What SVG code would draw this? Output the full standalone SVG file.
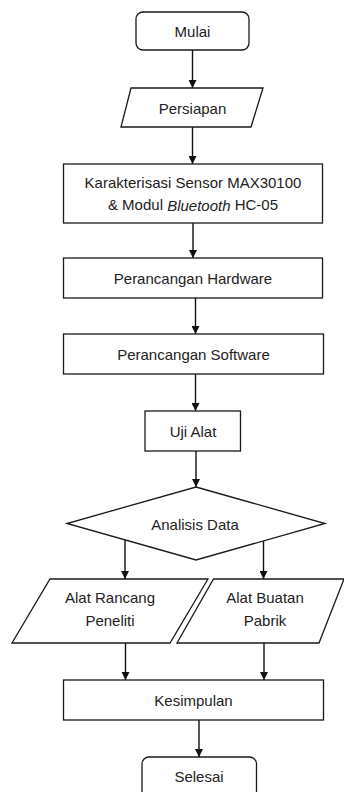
<svg xmlns="http://www.w3.org/2000/svg" width="344" height="792" viewBox="0 0 344 792">
<defs>
<marker id="ah" viewBox="0 0 10 10" refX="10" refY="5" markerWidth="8" markerHeight="8" markerUnits="userSpaceOnUse" orient="auto">
<path d="M0,0 L10,5 L0,10 z" fill="#111"/>
</marker>
</defs>
<style>
.s{fill:#fff;stroke:#1a1a1a;stroke-width:1.3}
.t{font-family:"Liberation Sans",Arial,sans-serif;font-size:15px;fill:#222;text-anchor:middle;dominant-baseline:central}
.c{fill:none;stroke:#111;stroke-width:1.4;marker-end:url(#ah)}
</style>
<rect width="344" height="792" fill="#fff"/>
<g id="connectors">
<line class="c" x1="192.5" y1="50" x2="192.5" y2="88"/>
<line class="c" x1="192.5" y1="127" x2="192.5" y2="164"/>
<line class="c" x1="193" y1="223" x2="193" y2="258"/>
<line class="c" x1="195.5" y1="298" x2="195.5" y2="334"/>
<line class="c" x1="195.5" y1="374" x2="195.5" y2="411"/>
<line class="c" x1="196" y1="451" x2="196" y2="487"/>
<line class="c" x1="125" y1="540" x2="125" y2="579"/>
<line class="c" x1="263.5" y1="541" x2="263.5" y2="579"/>
<line class="c" x1="125.5" y1="643" x2="125.5" y2="680"/>
<line class="c" x1="264" y1="643" x2="264" y2="680"/>
<line class="c" x1="199" y1="720" x2="199" y2="757"/>
</g>
<g id="mulai">
<rect class="s" x="136" y="12" width="113" height="38" rx="7"/>
<text class="t" x="192.5" y="31">Mulai</text>
</g>
<g id="persiapan">
<polygon class="s" points="131,88 263,88 251,127 121,127"/>
<text class="t" x="192.5" y="108">Persiapan</text>
</g>
<g id="karakterisasi">
<rect class="s" x="63.5" y="164" width="259" height="59"/>
<text class="t" x="193" y="182.5">Karakterisasi Sensor MAX30100</text>
<text class="t" x="193" y="204.5">&amp; Modul <tspan font-style="italic">Bluetooth</tspan> HC-05</text>
</g>
<g id="hardware">
<rect class="s" x="63.5" y="258" width="259" height="40"/>
<text class="t" x="193" y="278">Perancangan Hardware</text>
</g>
<g id="software">
<rect class="s" x="63.5" y="334" width="260" height="40"/>
<text class="t" x="193.5" y="354">Perancangan Software</text>
</g>
<g id="uji-alat">
<rect class="s" x="145" y="411" width="95.5" height="40"/>
<text class="t" x="193" y="431">Uji Alat</text>
</g>
<g id="analisis-data">
<polygon class="s" points="196,487 325,523.5 196,560 67,523.5"/>
<text class="t" x="195" y="524">Analisis Data</text>
</g>
<g id="alat-rancang">
<polygon class="s" points="50,579 208,579 170,643 12,643"/>
<text class="t" x="110" y="597">Alat Rancang</text>
<text class="t" x="110" y="620">Peneliti</text>
</g>
<g id="alat-buatan">
<polygon class="s" points="213.5,579 344,579 319,643 177,643"/>
<text class="t" x="265" y="597">Alat Buatan</text>
<text class="t" x="265" y="620">Pabrik</text>
</g>
<g id="kesimpulan">
<rect class="s" x="63.5" y="680" width="260" height="40"/>
<text class="t" x="193.5" y="700">Kesimpulan</text>
</g>
<g id="selesai">
<rect class="s" x="142" y="757" width="114.5" height="50" rx="7"/>
<text class="t" x="199" y="776">Selesai</text>
</g>
</svg>
